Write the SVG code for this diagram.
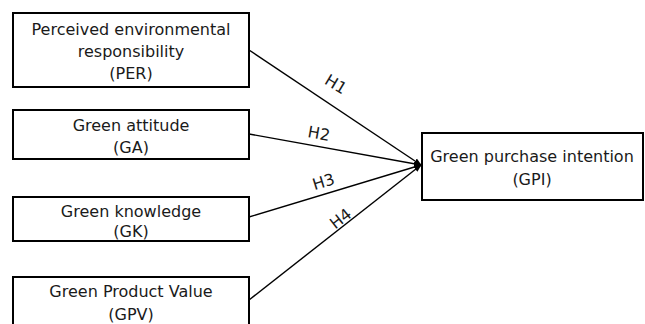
<svg xmlns="http://www.w3.org/2000/svg" width="645" height="324" viewBox="0 0 645 324">
<style>
.box{fill:#fff;stroke:#000;stroke-width:2}
.t{font-family:"DejaVu Sans",Verdana,sans-serif;font-size:16px;fill:#1a1a1a;text-anchor:middle}
.l{font-family:"DejaVu Sans",Verdana,sans-serif;font-size:16px;fill:#1a1a1a;text-anchor:middle}
.c{stroke:#000;stroke-width:1.4;fill:none}
</style>
<defs>
<marker id="ah" markerWidth="8" markerHeight="8" refX="7" refY="4" orient="auto" markerUnits="userSpaceOnUse">
<path d="M0,1 L8,4 L0,7 z" fill="#000"/>
</marker>
</defs>
<g id="connectors">
<line class="c" x1="249" y1="50" x2="421" y2="165" marker-end="url(#ah)"/>
<line class="c" x1="249" y1="134" x2="421" y2="165" marker-end="url(#ah)"/>
<line class="c" x1="249" y1="217" x2="421" y2="165" marker-end="url(#ah)"/>
<line class="c" x1="249" y1="300" x2="421" y2="165" marker-end="url(#ah)"/>
<text class="l" transform="translate(333,89) rotate(31)">H1</text>
<text class="l" transform="translate(318,139) rotate(10)">H2</text>
<text class="l" transform="translate(325,187) rotate(-17)">H3</text>
<text class="l" transform="translate(344,223) rotate(-38)">H4</text>
</g>
<g id="PER">
<rect class="box" x="13" y="13" width="236" height="74"/>
<text class="t" x="131" y="35">Perceived environmental</text>
<text class="t" x="131" y="57">responsibility</text>
<text class="t" x="131" y="79">(PER)</text>
</g>
<g id="GA">
<rect class="box" x="13" y="110" width="236" height="49"/>
<text class="t" x="131" y="131">Green attitude</text>
<text class="t" x="131" y="153">(GA)</text>
</g>
<g id="GK">
<rect class="box" x="13" y="197" width="236" height="44"/>
<text class="t" x="131" y="217">Green knowledge</text>
<text class="t" x="131" y="237">(GK)</text>
</g>
<g id="GPV">
<rect class="box" x="13" y="277" width="236" height="50"/>
<text class="t" x="131" y="297">Green Product Value</text>
<text class="t" x="131" y="320">(GPV)</text>
</g>
<g id="GPI">
<rect class="box" x="422" y="133" width="221" height="67"/>
<text class="t" x="532" y="162">Green purchase intention</text>
<text class="t" x="532" y="185">(GPI)</text>
</g>
</svg>
